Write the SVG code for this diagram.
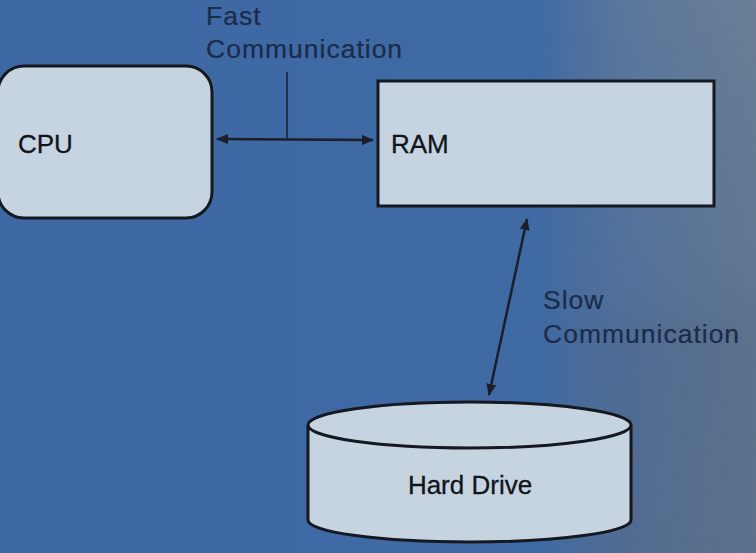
<svg xmlns="http://www.w3.org/2000/svg" width="756" height="553" viewBox="0 0 756 553">
<defs>
<linearGradient id="bg" x1="0" y1="0" x2="1" y2="0">
<stop offset="0" stop-color="#3d68a4"/>
<stop offset="0.7" stop-color="#3f6aa4"/>
<stop offset="0.84" stop-color="#52709a"/>
<stop offset="1" stop-color="#627890"/>
</linearGradient>
<linearGradient id="bgv" x1="0" y1="0" x2="0" y2="1">
<stop offset="0" stop-color="#8a9aa8" stop-opacity="0.2"/>
<stop offset="0.4" stop-color="#6f87a6" stop-opacity="0.1"/>
<stop offset="0.6" stop-color="#4a5f80" stop-opacity="0.25"/>
<stop offset="1" stop-color="#52627a" stop-opacity="0.3"/>
</linearGradient>
<linearGradient id="fade" x1="0" y1="0" x2="1" y2="0">
<stop offset="0" stop-color="#fff" stop-opacity="0"/>
<stop offset="0.4" stop-color="#fff" stop-opacity="1"/>
</linearGradient>
<mask id="rm"><rect x="540" y="0" width="216" height="553" fill="url(#fade)"/></mask>
<marker id="ah" viewBox="0 0 12 10" refX="11" refY="5" markerWidth="12" markerHeight="10" markerUnits="userSpaceOnUse" orient="auto-start-reverse">
<path d="M0,0 L12,5 L0,10 z" fill="#1a1f2a"/>
</marker>
<style>
.box{fill:#c6d4e1;stroke:#15191f;stroke-width:3}
.lbl{font-family:"Liberation Sans",Arial,sans-serif;font-size:26px;fill:#111418;stroke:#111418;stroke-width:0.3}
.cap{font-family:"Liberation Sans",Arial,sans-serif;font-size:26.5px;fill:#1b2b48;letter-spacing:1px;stroke:#1b2b48;stroke-width:0.2}
.con{stroke:#1a1f2a;stroke-width:2.5;fill:none}
</style>
</defs>
<rect width="756" height="553" fill="url(#bg)"/>
<rect width="756" height="553" fill="url(#bgv)" mask="url(#rm)"/>
<g id="connectors">
<line class="con" x1="217" y1="139" x2="373" y2="140" marker-start="url(#ah)" marker-end="url(#ah)"/>
<line x1="287" y1="72" x2="287" y2="138" stroke="#1a1f2a" stroke-width="1.5"/>
<line class="con" x1="527" y1="219" x2="489" y2="395" marker-start="url(#ah)" marker-end="url(#ah)"/>
<text class="cap" x="206" y="25">Fast</text>
<text class="cap" x="206" y="58">Communication</text>
<text class="cap" x="543" y="309">Slow</text>
<text class="cap" x="543" y="343">Communication</text>
</g>
<g id="cpu">
<rect class="box" x="-2" y="66" width="214" height="152" rx="26" ry="26"/>
<text class="lbl" x="18" y="153">CPU</text>
</g>
<g id="ram">
<rect class="box" x="378" y="81" width="336" height="125"/>
<text class="lbl" x="391" y="153">RAM</text>
</g>
<g id="harddrive">
<path class="box" d="M308,425 L308,520 A161.5,22 0 0 0 631,520 L631,425"/>
<ellipse class="box" cx="469.5" cy="425" rx="161.5" ry="23"/>
<text class="lbl" x="470" y="494" text-anchor="middle">Hard Drive</text>
</g>
</svg>
